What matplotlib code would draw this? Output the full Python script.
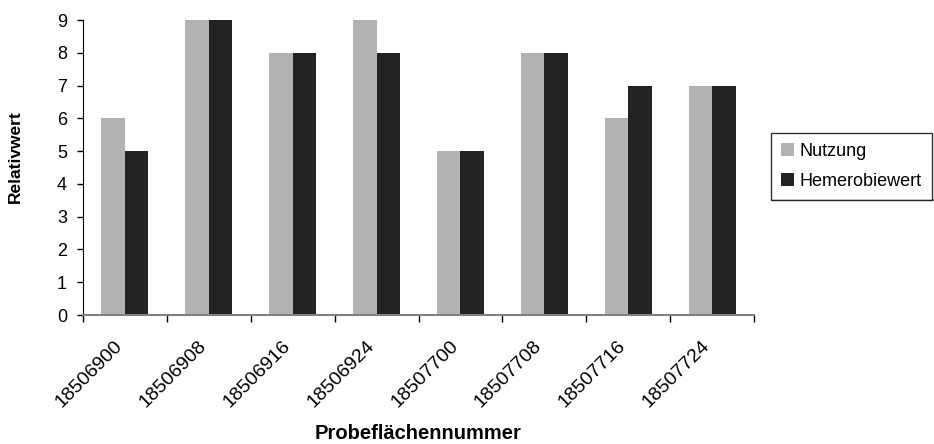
import numpy as np
import matplotlib.pyplot as plt
import matplotlib.transforms as mtransforms

plt.rcParams['font.family'] = ['Liberation Sans', 'DejaVu Sans']

kategorien = ['18506900', '18506908', '18506916', '18506924',
              '18507700', '18507708', '18507716', '18507724']
nutzung = [6, 9, 8, 9, 5, 8, 6, 7]
hemerobie = [5, 9, 8, 8, 5, 8, 7, 7]


def main():
        fig = plt.figure(figsize=(9.34, 4.44), dpi=100)
        ax = fig.add_axes([83 / 934, 1 - 315 / 444, (754 - 83) / 934, (315 - 20) / 444])

        x = np.arange(len(kategorien))
        w = 0.28
        ax.bar(x - w / 2, nutzung, w, color='#b2b2b2', label='Nutzung')
        ax.bar(x + w / 2, hemerobie, w, color='#222222', label='Hemerobiewert')

        ax.set_xlim(-0.5, len(kategorien) - 0.5)
        ax.set_ylim(0, 9)
        ax.set_yticks(range(10))
        ax.tick_params(axis='y', labelsize=13, direction='out', length=4.5, width=1, pad=7)

        # ticks between the categories, labels centred below
        ax.set_xticks(np.arange(len(kategorien) + 1) - 0.5)
        ax.set_xticklabels([])
        ax.tick_params(axis='x', which='major', direction='out', length=5, width=1)
        ax.set_xticks(x, minor=True)
        ax.set_xticklabels(kategorien, minor=True, rotation=45, ha='right', va='top',
                           rotation_mode='anchor', fontsize=14)
        ax.tick_params(axis='x', which='minor', length=0, pad=16)
        shift = mtransforms.ScaledTranslation(-11 / 100, 0, fig.dpi_scale_trans)
        for t in ax.get_xticklabels(minor=True):
                t.set_transform(t.get_transform() + shift)

        for s in ['top', 'right']:
                ax.spines[s].set_visible(False)
        ax.spines['bottom'].set_color('#808080')
        ax.spines['bottom'].set_linewidth(1.5)
        ax.spines['left'].set_color('black')

        ax.set_ylabel('Relativwert', fontsize=12.5, fontweight='bold',
                      ha='center', va='center')
        ax.yaxis.set_label_coords(15 / 934, 1 - 157 / 444, transform=fig.transFigure)
        ax.set_xlabel('Probeflächennummer', fontsize=14.5, fontweight='bold',
                      ha='center', va='baseline')
        ax.xaxis.set_label_coords(418 / 934, 1 - 439 / 444, transform=fig.transFigure)

        leg = ax.legend(loc='upper left', bbox_to_anchor=(771 / 934, 1 - 133 / 444),
                        bbox_transform=fig.transFigure, fontsize=13, frameon=True,
                        fancybox=False, shadow=False, handlelength=0.75, handleheight=0.75,
                        handletextpad=0.3, borderpad=0.55, labelspacing=0.72,
                        borderaxespad=0)
        leg.get_frame().set_edgecolor('black')
        leg.get_frame().set_linewidth(1.0)
        # grey shadow along the bottom of the legend box
        ax.plot([773 / 934, 934 / 934], [1 - 200.5 / 444] * 2, transform=fig.transFigure,
                color='#808080', lw=1.5, clip_on=False)

        fig.savefig('out.png', dpi=100)


if __name__ == "__main__":
        main()
